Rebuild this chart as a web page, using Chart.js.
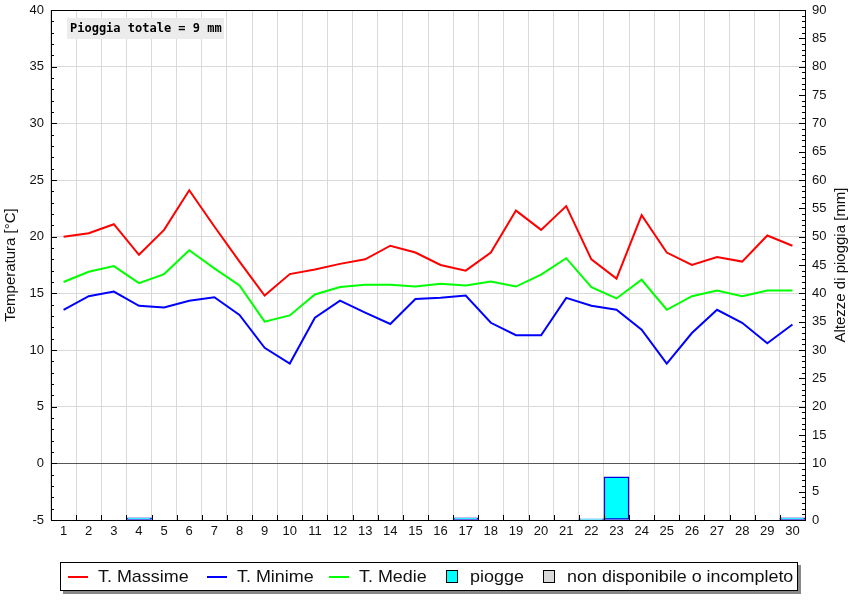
<!DOCTYPE html>
<html>
<head>
<meta charset="utf-8">
<script src="https://cdn.jsdelivr.net/npm/chart.js@4.4.1/dist/chart.umd.min.js"></script>
<style>
  html, body { margin: 0; padding: 0; background: #fff; }
  #wrap { width: 865px; height: 600px; }
</style>
</head>
<body>
<div id="wrap"><canvas id="meteo-chart"></canvas></div>
<script>
const days = ["1","2","3","4","5","6","7","8","9","10","11","12","13","14","15",
  "16","17","18","19","20","21","22","23","24","25","26","27","28","29","30"];
const tMax = [20.0, 20.3, 21.1, 18.4, 20.6, 24.1, 20.9, 17.8, 14.8, 16.7, 17.1, 17.6, 18.0, 19.2, 18.6,
  17.5, 17.0, 18.6, 22.3, 20.6, 22.7, 18.0, 16.3, 21.9, 18.6, 17.5, 18.2, 17.8, 20.1, 19.2];
const tMin = [13.55, 14.75, 15.15, 13.9, 13.75, 14.35, 14.65, 13.1, 10.2, 8.8, 12.85, 14.35, 13.3, 12.3, 14.5,
  14.6, 14.8, 12.4, 11.3, 11.3, 14.6, 13.9, 13.55, 11.8, 8.8, 11.5, 13.55, 12.4, 10.6, 12.25];
const tMed = [16.0, 16.9, 17.4, 15.9, 16.7, 18.8, 17.2, 15.7, 12.5, 13.05, 14.9, 15.55, 15.75, 15.75, 15.6,
  15.85, 15.7, 16.05, 15.6, 16.65, 18.1, 15.55, 14.55, 16.2, 13.55, 14.75, 15.25, 14.75, 15.25, 15.25];
const rain = [0, 0, 0, 0.4, 0, 0, 0, 0, 0, 0, 0, 0, 0, 0, 0,
  0, 0.4, 0, 0, 0, 0, 0.2, 7.6, 0, 0, 0, 0, 0, 0, 0.4];

const legendItems = [
  { text: "T. Massime", kind: "line", color: "#ff0000", x: 68 },
  { text: "T. Minime", kind: "line", color: "#0000ff", x: 207 },
  { text: "T. Medie", kind: "line", color: "#00ff00", x: 329 },
  { text: "piogge", kind: "box", color: "#00ffff", x: 446 },
  { text: "non disponibile o incompleto", kind: "box", color: "#d8d8d8", x: 543 }
];

const FONT = "'Liberation Sans', Arial, sans-serif";

// frame, minor ticks, side title, rain total, legend
const decor = {
  id: 'decor',
  afterDraw(chart) {
    const ctx = chart.ctx;
    const a = chart.chartArea;
    const yL = chart.scales.y, yR = chart.scales.y1, x = chart.scales.x;
    ctx.save();
    ctx.strokeStyle = '#000';
    ctx.lineWidth = 1;
    ctx.beginPath();
    for (let v = -5; v <= 40; v++) {
      const py = Math.round(yL.getPixelForValue(v)) + 0.5;
      ctx.moveTo(a.left, py);
      ctx.lineTo(a.left + (v % 5 === 0 ? 6 : 3), py);
    }
    for (let v = 0; v <= 90; v++) {
      const py = Math.round(yR.getPixelForValue(v)) + 0.5;
      ctx.moveTo(a.right, py);
      ctx.lineTo(a.right - (v % 5 === 0 ? 6 : 3), py);
    }
    for (let i = 0; i <= days.length; i++) {
      const px = Math.round(x.getPixelForValue(i - 0.5)) + 0.5;
      ctx.moveTo(px, a.bottom);
      ctx.lineTo(px, a.bottom - 5);
    }
    ctx.stroke();
    ctx.strokeRect(Math.round(a.left) + 0.5, Math.round(a.top) + 0.5,
      Math.round(a.right - a.left), Math.round(a.bottom - a.top));

    // right axis title
    ctx.fillStyle = '#111';
    ctx.font = '15px ' + FONT;
    ctx.textAlign = 'center';
    ctx.textBaseline = 'middle';
    ctx.translate(841, (a.top + a.bottom) / 2);
    ctx.rotate(-Math.PI / 2);
    ctx.fillText('Altezze di pioggia [mm]', 0, 0);
    ctx.restore();

    // rain total box
    const total = rain.reduce((s, v) => s + v, 0);
    ctx.save();
    ctx.fillStyle = '#ececec';
    ctx.fillRect(67, 18, 157, 21);
    ctx.fillStyle = '#000';
    ctx.font = 'bold 12px "DejaVu Sans Mono", monospace';
    ctx.textBaseline = 'middle';
    ctx.fillText('Pioggia totale = ' + Math.round(total) + ' mm', 70, 29);
    ctx.restore();

    // legend
    ctx.save();
    ctx.fillStyle = '#888';
    ctx.fillRect(63, 565, 738, 29);
    ctx.fillStyle = '#fff';
    ctx.fillRect(60, 562, 737, 28);
    ctx.strokeStyle = '#000';
    ctx.strokeRect(60.5, 562.5, 737, 28);
    ctx.font = '17px ' + FONT;
    ctx.textBaseline = 'middle';
    const ly = 577;
    legendItems.forEach(it => {
      let tx;
      if (it.kind === 'line') {
        ctx.strokeStyle = it.color;
        ctx.lineWidth = 2;
        ctx.beginPath();
        ctx.moveTo(it.x, ly);
        ctx.lineTo(it.x + 20, ly);
        ctx.stroke();
        tx = it.x + 30;
      } else {
        ctx.fillStyle = it.color;
        ctx.fillRect(it.x + 0.5, ly - 6.5, 11, 12);
        ctx.strokeStyle = '#000';
        ctx.lineWidth = 1;
        ctx.strokeRect(it.x + 0.5, ly - 6.5, 11, 12);
        tx = it.x + 24;
      }
      ctx.save();
      ctx.translate(tx, ly);
      ctx.scale(1.055, 1);
      ctx.fillStyle = '#111';
      ctx.fillText(it.text, 0, 0);
      ctx.restore();
    });
    ctx.restore();
  }
};

const data = {
  labels: days,
  datasets: [
    { type: 'line', label: 'T. Massime', data: tMax, borderColor: '#ff0000', borderWidth: 2,
      pointRadius: 0, tension: 0, yAxisID: 'y', order: 1 },
    { type: 'line', label: 'T. Minime', data: tMin, borderColor: '#0000ff', borderWidth: 2,
      pointRadius: 0, tension: 0, yAxisID: 'y', order: 1 },
    { type: 'line', label: 'T. Medie', data: tMed, borderColor: '#00ff00', borderWidth: 2,
      pointRadius: 0, tension: 0, yAxisID: 'y', order: 1 },
    { type: 'bar', label: 'piogge', data: rain, backgroundColor: '#00ffff', borderColor: '#0000dd',
      borderWidth: 1.5, borderSkipped: false, barPercentage: 1, categoryPercentage: 1, yAxisID: 'y1', order: 2 }
  ]
};

const config = {
  type: 'bar',
  data,
  plugins: [decor],
  options: {
    responsive: false,
    animation: false,
    layout: { padding: { top: 10, bottom: 60, left: 0, right: 0 } },
    plugins: { legend: { display: false }, tooltip: { enabled: false } },
    scales: {
      x: {
        offset: true,
        grid: { offset: true, color: '#d9d9d9', drawTicks: false },
        border: { display: false },
        ticks: { color: '#111', font: { family: FONT, size: 13 }, padding: 4, maxRotation: 0, autoSkip: false },
        afterFit: s => { s.height = 20; }
      },
      y: {
        position: 'left', min: -5, max: 40,
        grid: { color: c => c.tick.value === 0 ? '#555' : '#d9d9d9', drawTicks: false },
        border: { display: false },
        ticks: { stepSize: 5, color: '#111', font: { family: FONT, size: 13 }, padding: 7 },
        title: { display: true, text: 'Temperatura [°C]', color: '#111', font: { family: FONT, size: 15 }, padding: 2 },
        afterFit: s => { s.width = 51; s.paddingTop = 0; s.paddingBottom = 0; }
      },
      y1: {
        position: 'right', min: 0, max: 90,
        grid: { drawOnChartArea: false, drawTicks: false },
        border: { display: false },
        ticks: { stepSize: 5, color: '#111', font: { family: FONT, size: 13 }, padding: 7 },
        afterFit: s => { s.width = 60; s.paddingTop = 0; s.paddingBottom = 0; }
      }
    }
  }
};

const canvas = document.getElementById('meteo-chart');
canvas.width = 865;
canvas.height = 600;
const meteoChart = new Chart(canvas, config);
</script>
</body>
</html>
